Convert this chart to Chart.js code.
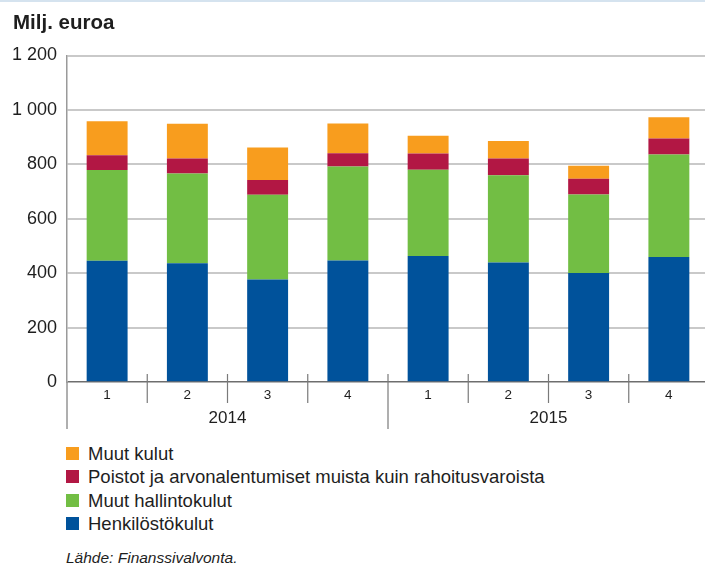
<!DOCTYPE html>
<html>
<head>
<meta charset="utf-8">
<script src="https://cdn.jsdelivr.net/npm/chart.js@4"></script>
<style>
  html, body { margin: 0; padding: 0; overflow: hidden; background: #fff; }
  body { width: 705px; height: 568px; position: relative; font-family: "Liberation Sans", Arial, sans-serif; color: #1e1e1e; }
  #topline { position: absolute; left: 0; top: 0; width: 705px; height: 2px; background: #d5e3ef; }
  #title { position: absolute; left: 13px; top: 12px; font-size: 20.5px; line-height: 20px; font-weight: bold; }
  #wrap { position: absolute; left: 0; top: 0; width: 710px; height: 440px; }
  #legend { position: absolute; left: 66px; top: 442px; font-size: 18.5px; line-height: 23.3px; }
  #legend .sw { display: inline-block; width: 13px; height: 13px; margin-right: 9px; }
  #source { position: absolute; left: 66px; top: 550px; font-size: 15.5px; line-height: 16px; font-style: italic; }
</style>
</head>
<body>
<div id="topline"></div>
<div id="wrap"><canvas id="chart" width="710" height="440"></canvas></div>
<div id="title">Milj. euroa</div>
<div id="legend"></div>
<div id="source">Lähde: Finanssivalvonta.</div>
<script>
// quarters on the axis, years under them (4 quarters each)
const quarters = ["1", "2", "3", "4", "1", "2", "3", "4"];
const years = ["2014", "2015"];

// stacked from the bottom up
const henkilostokulut = [446, 436, 377, 447, 463, 439, 401, 459];
const muutHallintokulut = [333, 330, 311, 345, 317, 321, 288, 377];
const poistot = [54, 55, 54, 49, 60, 61, 58, 59];
const muutKulut = [125, 128, 120, 109, 65, 65, 48, 78];

const seriesNames = [
  "Henkilöstökulut",
  "Muut hallintokulut",
  "Poistot ja arvonalentumiset muista kuin rahoitusvaroista",
  "Muut kulut"
];
const seriesColors = ["#00529b", "#72be44", "#b21744", "#f89d1e"];

const yMin = 0, yMax = 1200, yStep = 200;

function fmtThousands(v) {
  return String(v).replace(/\B(?=(\d{3})+(?!\d))/g, " ");
}

// dividers below the x axis and the year labels
const yearDividers = {
  id: "yearDividers",
  afterDraw(chart) {
    const ctx = chart.ctx;
    const x = chart.scales.x;
    const area = chart.chartArea;
    const n = quarters.length;
    const half = (x.getPixelForValue(1) - x.getPixelForValue(0)) / 2;
    ctx.save();
    ctx.strokeStyle = "#7a7a7a";
    ctx.lineWidth = 1.2;
    for (let i = 0; i <= n; i++) {
      const px = i < n ? x.getPixelForValue(i) - half : x.getPixelForValue(n - 1) + half;
      const isYear = i % 4 === 0;
      ctx.beginPath();
      ctx.moveTo(px, area.bottom - (i === 0 ? 0 : 8));
      ctx.lineTo(px, area.bottom + (isYear ? 47 : 21));
      ctx.stroke();
    }
    ctx.fillStyle = "#1e1e1e";
    ctx.font = "17px 'Liberation Sans Narrow', 'Liberation Sans', Arial, sans-serif";
    ctx.textAlign = "center";
    ctx.textBaseline = "middle";
    years.forEach((yr, j) => {
      const cx = (x.getPixelForValue(j * 4) + x.getPixelForValue(j * 4 + 3)) / 2;
      ctx.fillText(yr, cx, area.bottom + 36);
    });
    ctx.restore();
  }
};

const datasets = [henkilostokulut, muutHallintokulut, poistot, muutKulut].map((d, i) => ({
  label: seriesNames[i],
  data: d,
  backgroundColor: seriesColors[i],
  borderWidth: 0,
  barPercentage: 0.51,
  categoryPercentage: 1
}));

Chart.defaults.font.family = "'Liberation Sans', Arial, sans-serif";
Chart.defaults.color = "#1e1e1e";

new Chart(document.getElementById("chart"), {
  type: "bar",
  data: { labels: quarters, datasets },
  options: {
    responsive: false,
    animation: false,
    devicePixelRatio: 1,
    layout: { padding: { top: 55.5, right: 1, bottom: 0, left: 0 } },
    plugins: { legend: { display: false }, tooltip: { enabled: false } },
    scales: {
      x: {
        stacked: true,
        grid: { display: false, drawTicks: false },
        border: { display: false },
        ticks: { font: { size: 13.5 }, padding: 5, maxRotation: 0 },
        afterFit: (s) => { s.height = 58; }
      },
      y: {
        stacked: true,
        min: yMin,
        max: yMax,
        ticks: {
          stepSize: yStep,
          font: { size: 18 },
          padding: 10,
          callback: (v) => fmtThousands(v)
        },
        grid: {
          drawTicks: false,
          color: (c) => (c.tick && c.tick.value === 0 ? "#6e6e6e" : "#c9c9c9"),
          lineWidth: (c) => (c.tick && c.tick.value === 0 ? 1.6 : 2)
        },
        border: { display: true, color: "#9a9a9a", width: 1.5 },
        afterFit: (s) => { s.width = 67; }
      }
    }
  },
  plugins: [yearDividers]
});

// legend, top entry is the top of the stack
const legend = document.getElementById("legend");
for (let i = seriesNames.length - 1; i >= 0; i--) {
  const row = document.createElement("div");
  const sw = document.createElement("span");
  sw.className = "sw";
  sw.style.background = seriesColors[i];
  row.appendChild(sw);
  row.appendChild(document.createTextNode(seriesNames[i]));
  legend.appendChild(row);
}
</script>
</body>
</html>
